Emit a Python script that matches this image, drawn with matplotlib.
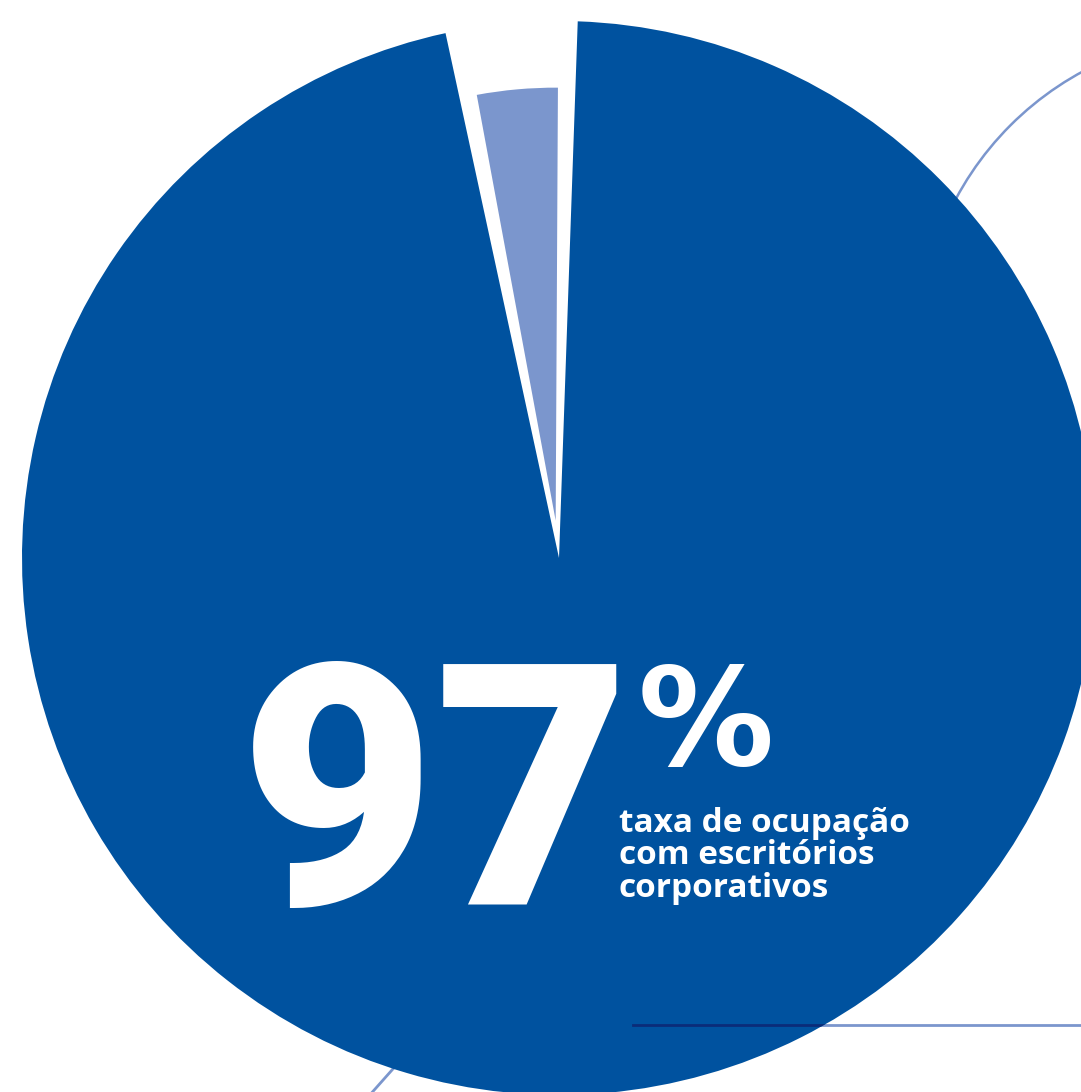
import matplotlib
matplotlib.use("Agg")
import matplotlib.pyplot as plt
from matplotlib.patches import Circle
from matplotlib.lines import Line2D

# ---- data ----
shares = [97, 3]
share_names = ["escritórios corporativos", "outros"]
headline = "97"
headline_unit = "%"
caption_lines = ["taxa de ocupação", "com escritórios", "corporativos"]

# ---- style ----
W, H = 1081, 1092
DARK = "#00529F"
LIGHT = "#7B96CD"
NAVY = "#0B2C79"

fig = plt.figure(figsize=(W / 100, H / 100), dpi=100)
ax = fig.add_axes([0, 0, 1, 1])

cx, cy = 559, H - 558
R = 537
wedges, _ = ax.pie(shares, colors=[DARK, LIGHT], startangle=100.5,
                   counterclock=True, radius=R, center=(cx, cy),
                   explode=[0, 37.5], wedgeprops=dict(linewidth=0))
gap = 1.7
wedges[0].set_theta1(wedges[0].theta1 + gap)
wedges[0].set_theta2(wedges[0].theta2 - gap)
wedges[1].set_radius(433)
for w in wedges:
    w.set_zorder(2)

ax.set_xlim(0, W)
ax.set_ylim(0, H)
ax.set_aspect("equal")
ax.axis("off")

# decorative elements
ax.add_patch(Circle((1231, H - 346), 312, fill=False, edgecolor=LIGHT,
                    linewidth=1.8, zorder=1))
ax.add_line(Line2D([633, W + 5], [H - 1025, H - 1025], color=LIGHT,
                   linewidth=2.0, zorder=1))
navy = Line2D([633, W + 5], [H - 1025, H - 1025], color=NAVY,
              linewidth=2.0, zorder=3)
ax.add_line(navy)
navy.set_clip_path(wedges[0])
ax.add_line(Line2D([360, 440], [H - 1106, H - 1016], color=LIGHT,
                   linewidth=2.0, zorder=1))

# texts
ax.text(240, H - 905, headline, color="white", fontsize=243,
        family=["Roboto", "DejaVu Sans"], fontweight="black",
        ha="left", va="baseline", zorder=5)
ax.text(638, H - 765, headline_unit, color="white", fontsize=98,
        family=["DejaVu Sans"], fontweight="bold",
        ha="left", va="baseline", zorder=5)
for i, line in enumerate(caption_lines):
    ax.text(619, H - 832 - i * 32.5, line, color="white", fontsize=24,
            family=["Open Sans", "DejaVu Sans"], fontweight="bold",
            ha="left", va="baseline", zorder=5)

fig.savefig("out.png", dpi=100, facecolor="white")
